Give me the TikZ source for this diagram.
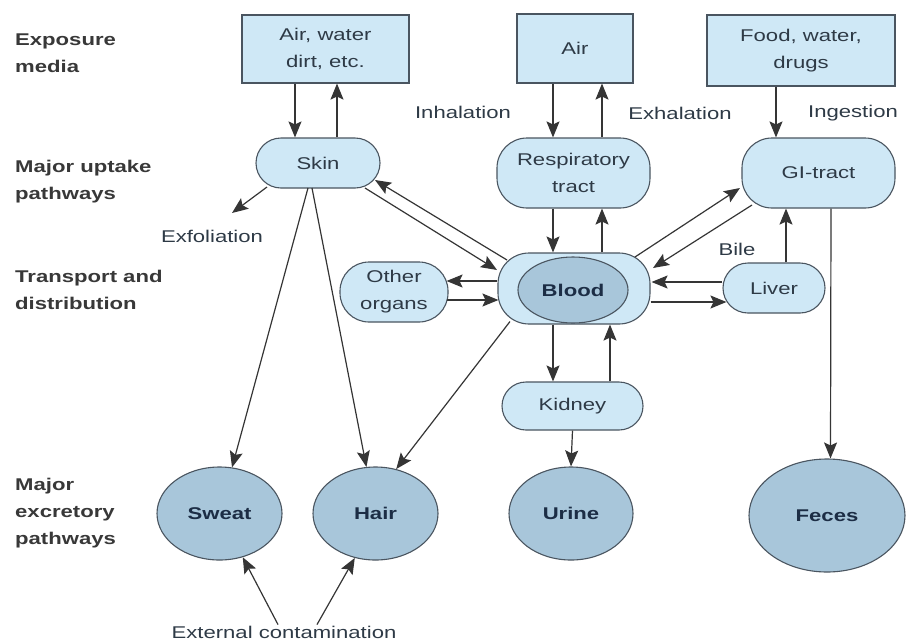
\documentclass[tikz,border=0pt]{standalone}
\usepackage{fontspec}
\setmainfont{Liberation Sans}[FakeStretch=1.3]
\usetikzlibrary{arrows.meta,calc,shapes.geometric}
\definecolor{boxfill}{HTML}{CFE8F6}
\definecolor{darkfill}{HTML}{A8C6DA}
\definecolor{edgecol}{HTML}{4A5560}
\definecolor{txtcol}{HTML}{2E3A46}
\definecolor{boldtxt}{HTML}{1C2D45}
\definecolor{labcol}{HTML}{383838}
\definecolor{arrcol}{HTML}{353535}
\begin{document}
\begin{tikzpicture}[x=1pt,y=-1pt,
  font=\fontsize{17}{27}\selectfont,
  medbox/.style={draw=edgecol,line width=1.1pt,fill=boxfill,rectangle,inner sep=0pt,align=center,text=txtcol},
  organ/.style={draw=edgecol,line width=1.1pt,fill=boxfill,rectangle,inner sep=0pt,align=center,text=txtcol},
  excr/.style={draw=edgecol,line width=1.1pt,fill=darkfill,ellipse,inner sep=0pt,text=boldtxt,font=\fontsize{17}{27}\selectfont\bfseries},
  lab/.style={text=labcol,font=\fontsize{17}{27}\selectfont\bfseries,align=left,anchor=west,inner sep=0pt},
  plain/.style={text=txtcol,inner sep=0pt},
  arr/.style={draw=arrcol,line width=1.2pt,-{Stealth[length=16pt,width=13pt,inset=3pt]}}]
\useasboundingbox[fill=white] (0,0) rectangle (906,641);

% left column labels
\node[lab] (l1) at (15,53) {Exposure\\media};
\node[lab] (l2) at (15,182) {Major uptake\\pathways};
\node[lab] (l3) at (15,290) {Transport and\\distribution};
\node[lab] (l4) at (15,513) {Major\\excretory\\pathways};

% exposure media
\node[medbox,minimum width=167pt,minimum height=68pt] (media) at (325.5,49) {Air, water\\dirt, etc.};
\node[medbox,minimum width=116pt,minimum height=69pt] (air) at (575,48.5) {Air};
\node[medbox,minimum width=188pt,minimum height=71pt] (food) at (801,50.5) {Food, water,\\drugs};

% uptake organs
\node[organ,minimum width=124pt,minimum height=50pt,rounded corners=25pt] (skin) at (318,163) {Skin};
\node[organ,minimum width=153pt,minimum height=70pt,rounded corners=30pt] (resp) at (573.5,173) {Respiratory\\tract};
\node[organ,minimum width=153pt,minimum height=70pt,rounded corners=30pt] (gi) at (818.5,173) {GI-tract};

% transport
\node[organ,minimum width=108pt,minimum height=60pt,rounded corners=29pt] (other) at (394,292) {Other\\organs};
\node[organ,minimum width=152pt,minimum height=71pt,rounded corners=31pt] (blood) at (574,288.5) {};
\node[excr,minimum width=110pt,minimum height=66pt] (bloodin) at (573,290) {Blood};
\node[organ,minimum width=102pt,minimum height=50pt,rounded corners=25pt] (liver) at (774,288) {Liver};
\node[organ,minimum width=141pt,minimum height=48pt,rounded corners=24pt] (kidney) at (572.5,406) {Kidney};

% excretory
\node[excr,minimum width=125pt,minimum height=93pt] (sweat) at (219.5,513.5) {Sweat};
\node[excr,minimum width=125pt,minimum height=93pt] (hair) at (375.5,513.5) {Hair};
\node[excr,minimum width=124pt,minimum height=93pt] (urine) at (571,513.5) {Urine};
\node[excr,minimum width=156pt,minimum height=113pt] (feces) at (827,515.5) {Feces};

% text labels
\node[plain] (inh) at (463,112) {Inhalation};
\node[plain] (exh) at (680,113) {Exhalation};
\node[plain] (ing) at (853,113) {Ingestion};
\node[plain] (bile) at (737,249) {Bile};
\node[plain] (exf) at (212,236) {Exfoliation};
\node[plain] (ext) at (284,632) {External contamination};
\coordinate (exfend) at (232,213);

% connectors: exposure <-> uptake
\draw[arr] ([xshift=-30.5pt]media.south) -- ([xshift=-23pt]skin.north);
\draw[arr] ([xshift=19pt]skin.north) -- ([xshift=11.5pt]media.south);
\draw[arr] ([xshift=-22pt]air.south) -- ([xshift=-20.5pt]resp.north);
\draw[arr] ([xshift=28.5pt]resp.north) -- ([xshift=27pt]air.south);
\draw[arr] ([xshift=-25pt]food.south) -- ([xshift=-42.5pt]gi.north);

% uptake <-> blood
\draw[arr] ([xshift=-20.5pt]resp.south) -- ([xshift=-21pt]blood.north);
\draw[arr] ([xshift=28pt]blood.north) -- ([xshift=28.5pt]resp.south);
\draw[arr] ([xshift=61pt,yshift=31.5pt]blood.center) -- ([xshift=-78.5pt,yshift=-15pt]gi.center);
\draw[arr] ([xshift=-66.5pt,yshift=-32pt]gi.center) -- ([xshift=79pt,yshift=20.5pt]blood.center);
\draw[arr] ([xshift=47pt,yshift=-25pt]skin.center) -- ([xshift=-77pt,yshift=18.5pt]blood.center);
\draw[arr] ([xshift=-67pt,yshift=28.5pt]blood.center) -- ([xshift=57pt,yshift=-17pt]skin.center);
\draw[arr] ([xshift=-51pt,yshift=-24pt]skin.center) -- (exfend);

% blood <-> organs
\draw[arr] ([yshift=7.5pt]blood.west) -- ([xshift=-2pt,yshift=11pt]other.east);
\draw[arr] ([xshift=-2pt,yshift=-8pt]other.east) -- ([xshift=1pt,yshift=-11.5pt]blood.west);
\draw[arr] ([yshift=6pt]liver.west) -- ([xshift=1pt,yshift=6.5pt]blood.east);
\draw[arr] ([yshift=-13.5pt]blood.east) -- ([xshift=4pt,yshift=-14pt]liver.west);
\draw[arr] ([xshift=12pt]liver.north) -- ([xshift=-32.5pt]gi.south);
\draw[arr] ([xshift=-21pt]blood.south) -- ([xshift=-19.5pt]kidney.north);
\draw[arr] ([xshift=37.5pt]kidney.north) -- ([xshift=36pt]blood.south);
\draw[arr] (kidney.south) -- (urine.north);

% to excretory
\draw[arr] ([xshift=12.5pt]gi.south) -- ([xshift=3.5pt]feces.north);
\draw[arr] ([xshift=-10pt,yshift=-25pt]skin.center) -- (sweat);
\draw[arr] ([xshift=-6pt,yshift=-25pt]skin.center) -- (hair);
\draw[arr] ([xshift=-64pt,yshift=-33pt]blood.center) -- (hair.65);
\draw[arr] ([xshift=-6pt,yshift=1pt]ext.north) -- (sweat.-62);
\draw[arr] ([xshift=33pt,yshift=1pt]ext.north) -- (hair.-115);
\end{tikzpicture}
\end{document}
